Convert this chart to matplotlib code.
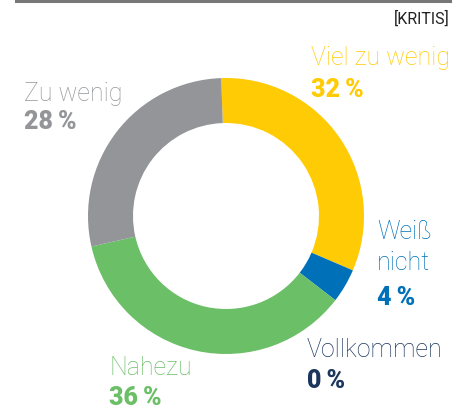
import matplotlib
matplotlib.use("Agg")
import matplotlib.pyplot as plt
from matplotlib.lines import Line2D

# data, clockwise from the top
labels = ["Viel zu wenig", "Weiß\nnicht", "Vollkommen", "Nahezu", "Zu wenig"]
values = [32, 4, 0, 36, 28]
colors = ["#FFCB05", "#0071B9", "#1B365D", "#6BBF67", "#939598"]
text_colors = ["#FFCB05", "#0071B9", "#1B365D", "#6BBF67", "#939598"]

W, H = 466, 412
fig = plt.figure(figsize=(W / 100, H / 100), dpi=100)


def fx(px):
    return px / W


def fy(py):
    return 1 - py / H


# donut: centre (226, 216) px, outer radius 138 px, inner 93 px
cx, cy, r_out, r_in = 226, 216, 138, 93
ax = fig.add_axes([fx(cx - r_out), fy(cy + r_out), 2 * r_out / W, 2 * r_out / H])
ax.pie(values, colors=colors, startangle=92, counterclock=False, radius=1,
       wedgeprops=dict(width=(r_out - r_in) / r_out, linewidth=0))
ax.set_xlim(-1, 1)
ax.set_ylim(-1, 1)
ax.set_aspect("equal")
ax.axis("off")

# top rule
fig.add_artist(Line2D([fx(16), fx(450)], [fy(1), fy(1)], color="#777777", lw=2.2,
                      transform=fig.transFigure))
fig.text(fx(450), fy(24), "[KRITIS]", ha="right", va="baseline", fontsize=11.5,
         family="Roboto", color="#222222")

# label positions (left x, baseline y of first name line, baseline y of percentage) in px
label_pos = [(311, 65, 97), (377, 239, 305), (307, 357, 388), (109, 375, 405), (24, 101, 129)]
line_step = 31

for lab, val, col, (x, yb, yp) in zip(labels, values, text_colors, label_pos):
    for i, line in enumerate(lab.split("\n")):
        fig.text(fx(x), fy(yb + i * line_step), line, ha="left", va="baseline",
                 fontsize=18, family="Roboto", weight="light", color=col)
    fig.text(fx(x), fy(yp), f"{val}\u2009%", ha="left", va="baseline", fontsize=18,
             family=["Roboto", "DejaVu Sans"], weight="black", color=col)

fig.savefig("out.png", dpi=100)
